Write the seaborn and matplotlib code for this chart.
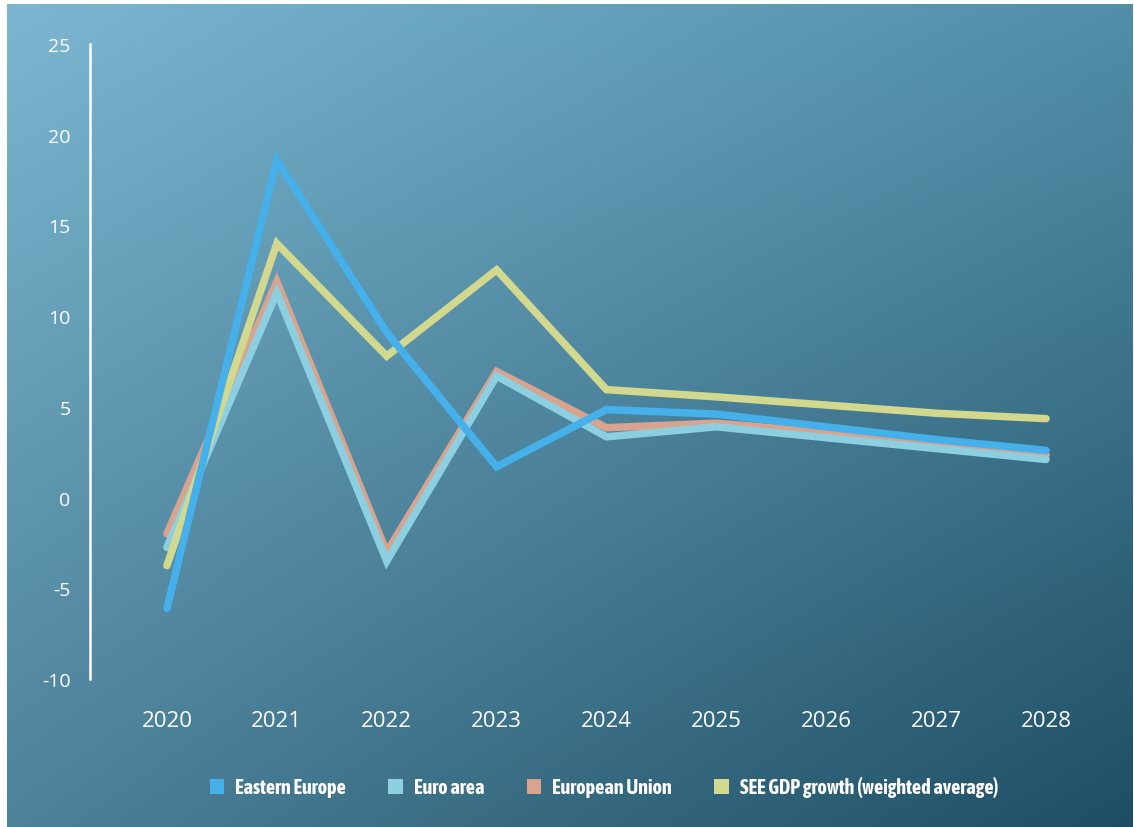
import numpy as np
import pandas as pd
import matplotlib
matplotlib.use("Agg")
import matplotlib.pyplot as plt
from matplotlib.patches import Patch
import seaborn as sns

years = [2020, 2021, 2022, 2023, 2024, 2025, 2026, 2027, 2028]
eastern_europe = [-6.1, 18.6, 9.1, 1.7, 4.85, 4.6, 3.9, 3.2, 2.6]
euro_area = [-2.75, 11.3, -3.5, 6.7, 3.35, 3.9, 3.3, 2.7, 2.1]
european_union = [-2.0, 11.9, -3.0, 6.95, 3.85, 4.1, 3.6, 3.0, 2.35]
see_growth = [-3.75, 14.0, 7.8, 12.55, 5.95, 5.55, 5.1, 4.65, 4.35]

series_names = ["Eastern Europe", "Euro area", "European Union",
                "SEE GDP growth (weighted average)"]
series_colors = ["#45B0EA", "#8CCFE0", "#D9A38E", "#D2D98E"]
y_ticks = [-10, -5, 0, 5, 10, 15, 20, 25]

frames = []
for name, vals in zip(series_names,
                      [eastern_europe, euro_area, european_union, see_growth]):
    frames.append(pd.DataFrame({"year": years, "value": vals, "series": name}))
df = pd.concat(frames, ignore_index=True)

sns.set_theme(style="white")
plt.rcParams["font.family"] = ["Open Sans", "DejaVu Sans"]

W, H = 1134, 828
fig = plt.figure(figsize=(W / 100, H / 100), dpi=100)
fig.patch.set_facecolor("white")

# diagonal gradient backdrop (light upper-left to dark lower-right)
bg = fig.add_axes([7 / W, 0, (W - 8) / W, (H - 5) / H], zorder=-10)
ny, nx = 200, 280
u = np.linspace(0, 1, nx)[None, :]
v = np.linspace(0, 1, ny)[:, None]
tl = np.array([124, 182, 208]) / 255
tr = np.array([82, 142, 168]) / 255
bl = np.array([76, 130, 154]) / 255
br = np.array([30, 78, 100]) / 255
img = ((1 - u)[..., None] * (1 - v)[..., None] * tl + u[..., None] * (1 - v)[..., None] * tr
       + (1 - u)[..., None] * v[..., None] * bl + u[..., None] * v[..., None] * br)
bg.imshow(img, aspect="auto", extent=[0, 1, 0, 1], origin="upper", interpolation="bicubic")
bg.set_axis_off()

ax = fig.add_axes([90 / W, 1 - 680 / H, (1112 - 90) / W, (680 - 45) / H])
ax.patch.set_alpha(0)

draw_order = ["European Union", "Euro area", "SEE GDP growth (weighted average)",
              "Eastern Europe"]
palette = dict(zip(series_names, series_colors))
sns.lineplot(data=df, x="year", y="value", hue="series", hue_order=draw_order,
             palette=palette, linewidth=5.4, ax=ax, legend=False)
for line in ax.lines:
    line.set_solid_capstyle("round")
    line.set_solid_joinstyle("miter")

ax.set_xlim(2019.3, 2028.6)
ax.set_ylim(-10, 25)
ax.set_xticks(years)
ax.set_xticklabels([str(y) for y in years])
ax.set_yticks(y_ticks)
ax.set_yticklabels([str(t) for t in y_ticks])
ax.set_xlabel("")
ax.set_ylabel("")
for side in ["top", "right", "bottom"]:
    ax.spines[side].set_visible(False)
ax.spines["left"].set_color("white")
ax.spines["left"].set_linewidth(1.8)
ax.tick_params(axis="y", length=0, pad=14, labelsize=14, labelcolor="white")
ax.tick_params(axis="x", length=0, pad=22, labelsize=16, labelcolor="white")
ax.grid(False)

handles = [Patch(facecolor=c, edgecolor="none") for c in series_colors]
leg = fig.legend(handles, series_names, loc="center", bbox_to_anchor=(604 / W, 1 - 788 / H),
                 ncol=4, frameon=False, handlelength=0.72, handleheight=0.72,
                 handletextpad=0.55, columnspacing=2.1,
                 prop={"family": ["Asap Condensed", "DejaVu Sans"],
                       "weight": "bold", "size": 14.5})
for t in leg.get_texts():
    t.set_color("white")

fig.savefig("out.png", dpi=100)
